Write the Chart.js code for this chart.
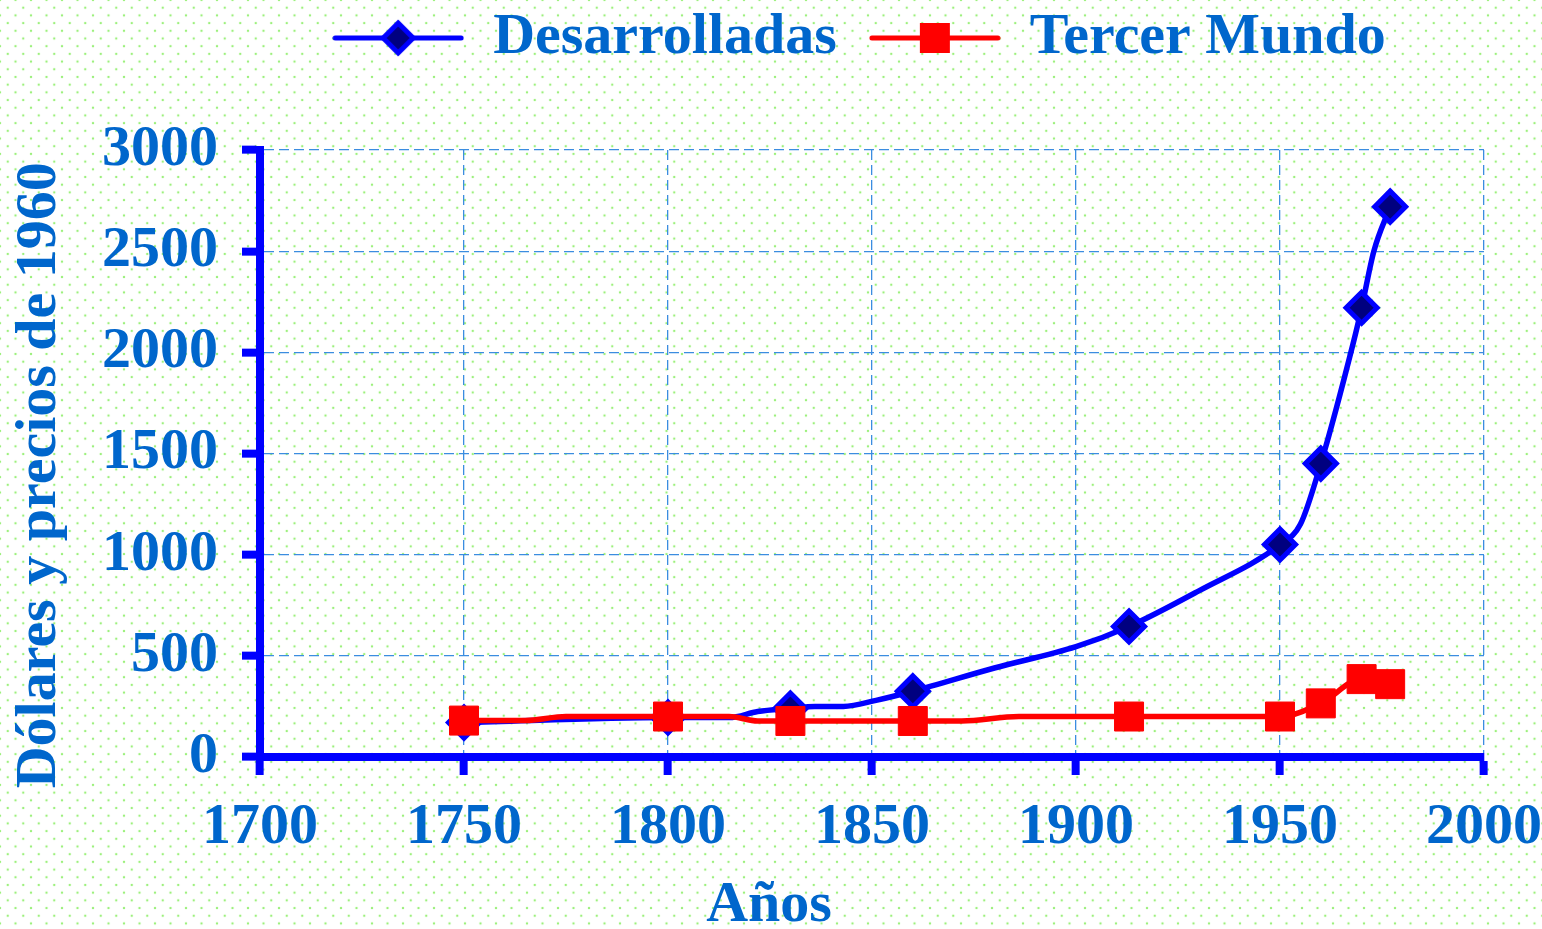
<!DOCTYPE html>
<html lang="es">
<head>
<meta charset="utf-8">
<title>Desarrolladas y Tercer Mundo</title>
<script src="https://cdn.jsdelivr.net/npm/chart.js@4.4.1/dist/chart.umd.min.js"></script>
<style>
  html, body { margin: 0; padding: 0; }
  body {
    width: 1542px; height: 929px; overflow: hidden;
    background-color: #ffffff;
    background-image: radial-gradient(circle, #9cf07c 0.9px, rgba(255,255,255,0) 1.6px),
                      radial-gradient(circle, #9cf07c 0.9px, rgba(255,255,255,0) 1.6px);
    background-size: 15.5px 15.4px;
    background-position: 0 0, 7.75px 7.7px;
  }
  #wrap { position: relative; width: 1542px; height: 929px; }
</style>
</head>
<body>
<div id="wrap"><canvas id="chart"></canvas></div>
<script>
// Desarrolladas: PIB por habitante (dólares y precios de 1960)
const devYears  = [1750, 1800, 1815, 1822, 1830, 1836, 1843, 1851, 1860, 1880, 1900, 1913, 1930, 1950, 1955, 1960, 1968, 1970, 1973, 1977];
const devValues = [170, 195, 195, 225, 240, 250, 250, 280, 325, 440, 545, 645, 820, 1050, 1150, 1450, 2050, 2220, 2500, 2720];

// Tercer Mundo
const tmYears  = [1750, 1765, 1775, 1800, 1815, 1822, 1830, 1860, 1872, 1886, 1913, 1950, 1960, 1970, 1977];
const tmValues = [180, 180, 200, 200, 200, 178, 178, 178, 178, 200, 200, 200, 265, 385, 360];

// years that carry a marker on both curves
const markerYears = [1750, 1800, 1830, 1860, 1913, 1950, 1960, 1970, 1977];

const xTicks = [1700, 1750, 1800, 1850, 1900, 1950, 2000];
const yTicks = [0, 500, 1000, 1500, 2000, 2500, 3000];

const seriesNames = ['Desarrolladas', 'Tercer Mundo'];

const FAMILY = '"Liberation Serif", "Times New Roman", serif';
const TEXT_BLUE = '#0066CC';
const AXIS_BLUE = '#0000FF';
const LEGEND_DX = 90;   // moves the legend block right (half of it)
const LEGEND_DY = -73;

function toPoints(xs, ys) {
  return xs.map((x, i) => ({ x: x, y: ys[i] }));
}

// legend swatch: line with the marker in the middle
function legendSwatch(kind) {
  const c = document.createElement('canvas');
  c.width = 132; c.height = 40;
  const g = c.getContext('2d');
  g.lineCap = 'round';
  g.lineWidth = 5;
  if (kind === 0) {
    g.strokeStyle = AXIS_BLUE;
    g.beginPath(); g.moveTo(3, 20); g.lineTo(129, 20); g.stroke();
    g.beginPath();
    g.moveTo(51, 20); g.lineTo(66, 5); g.lineTo(81, 20); g.lineTo(66, 35); g.closePath();
    g.fillStyle = '#000080'; g.fill();
    g.stroke();
  } else {
    g.strokeStyle = '#FF0000';
    g.beginPath(); g.moveTo(3, 20); g.lineTo(129, 20); g.stroke();
    g.fillStyle = '#FF0000';
    g.fillRect(51, 5, 30, 30);
  }
  return c;
}
const swatches = [legendSwatch(0), legendSwatch(1)];

const legendShift = {
  id: 'legendShift',
  afterLayout(chart) {
    const lg = chart.legend;
    if (!lg) return;
    lg.left += LEGEND_DX; lg.right += LEGEND_DX;
    lg.top += LEGEND_DY; lg.bottom += LEGEND_DY;
  }
};

const axisGrid = {
  color: '#3b8de0',
  lineWidth: 1.3,
  tickColor: AXIS_BLUE,
  tickWidth: 8,
  tickLength: 18
};
const axisBorder = { color: AXIS_BLUE, width: 8, dash: [10, 5] };
const tickFont = { family: FAMILY, size: 58, weight: 'bold' };

new Chart(document.getElementById('chart'), {
  type: 'line',
  data: {
    datasets: [
      {
        label: seriesNames[0],
        data: toPoints(devYears, devValues),
        borderColor: AXIS_BLUE,
        borderWidth: 5.5,
        cubicInterpolationMode: 'monotone',
        pointStyle: 'rectRot',
        pointRadius: devYears.map(y => markerYears.includes(y) ? 15.5 : 0),
        pointBackgroundColor: '#000080',
        pointBorderColor: AXIS_BLUE,
        pointBorderWidth: 5,
        order: 2
      },
      {
        label: seriesNames[1],
        data: toPoints(tmYears, tmValues),
        borderColor: '#FF0000',
        borderWidth: 5.5,
        cubicInterpolationMode: 'monotone',
        pointStyle: 'rect',
        pointRadius: tmYears.map(y => markerYears.includes(y) ? 20.5 : 0),
        pointBackgroundColor: '#FF0000',
        pointBorderColor: '#FF0000',
        pointBorderWidth: 1,
        order: 1
      }
    ]
  },
  options: {
    responsive: true,
    maintainAspectRatio: false,
    animation: false,
    layout: { padding: { top: 50, right: 4, bottom: 0, left: 0 } },
    plugins: {
      tooltip: { enabled: false },
      legend: {
        position: 'top',
        labels: {
          usePointStyle: true,
          pointStyleWidth: 132,
          padding: 32,
          color: TEXT_BLUE,
          font: { family: FAMILY, size: 58, weight: 'bold' },
          sort: (a, b) => a.datasetIndex - b.datasetIndex,
          generateLabels(chart) {
            const items = Chart.defaults.plugins.legend.labels.generateLabels(chart);
            items.forEach(it => { it.pointStyle = swatches[it.datasetIndex]; });
            return items;
          }
        }
      },
      title: {
        display: true,
        position: 'bottom',
        text: 'Años',
        color: TEXT_BLUE,
        font: { family: FAMILY, size: 58, weight: 'bold', lineHeight: 0.8 },
        padding: 0
      }
    },
    scales: {
      x: {
        type: 'linear',
        position: 'bottom',
        min: 1700,
        max: 2000,
        afterBuildTicks: s => { s.ticks = xTicks.map(v => ({ value: v })); },
        afterFit: s => { s.height = 125.6; s.paddingRight = 58; },
        ticks: {
          font: tickFont,
          color: TEXT_BLUE,
          padding: 18,
          maxRotation: 0,
          autoSkip: false,
          callback: v => String(v)
        },
        grid: axisGrid,
        border: axisBorder
      },
      y: {
        min: 0,
        max: 3000,
        afterBuildTicks: s => { s.ticks = yTicks.map(v => ({ value: v })); },
        afterFit: s => { s.width = 260; },
        ticks: {
          font: tickFont,
          color: TEXT_BLUE,
          padding: 24,
          callback: v => String(v)
        },
        grid: axisGrid,
        border: axisBorder,
        title: {
          display: true,
          text: 'Dólares y precios de 1960\u00a0\u00a0\u00a0',
          color: TEXT_BLUE,
          font: { family: FAMILY, size: 58, weight: 'bold', lineHeight: 1.2 },
          padding: { top: 5, bottom: 0 }
        }
      }
    }
  },
  plugins: [legendShift]
});
</script>
</body>
</html>
